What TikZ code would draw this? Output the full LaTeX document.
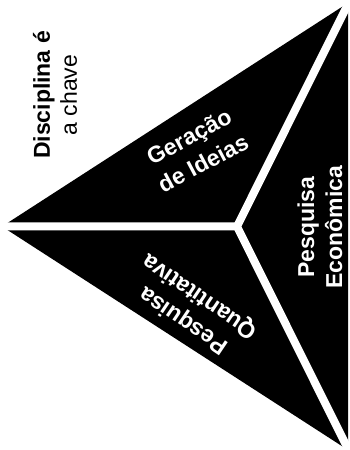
\documentclass[tikz,border=0pt]{standalone}
\usepackage{fontspec}
\setmainfont{Liberation Sans}
\begin{document}
\begin{tikzpicture}[x=1pt,y=1pt,
  lbl/.style={text=white,font=\fontsize{23}{30}\selectfont\bfseries,align=center,inner sep=0pt},
  gap/.style={draw=white,line width=8pt,line cap=round}]
\useasboundingbox (0,0) rectangle (349,450);
\coordinate (A) at (2,223.5);
\coordinate (T) at (348,447);
\coordinate (B) at (348,0);
\coordinate (J) at (237,223.5);
\coordinate (A2) at (-10,223.5);
\coordinate (T2) at (360,470);
\coordinate (B2) at (360,-23);
\fill[black] (A) -- (T) -- (B) -- cycle;
\draw[gap] (A2) -- (J) -- (T2) (J) -- (B2);
\node[lbl,rotate=28] (gi) at (196,300) {Geração\\de Ideias};
\node[lbl,rotate=146,font=\fontsize{23}{29}\selectfont\bfseries] (pq) at (192,142) {Pesquisa\\Quantitativa};
\node[lbl,rotate=90,font=\fontsize{23}{28}\selectfont\bfseries] (pe) at (320,223) {Pesquisa\\Econômica};
\node[rotate=90,align=center,inner sep=0pt,font=\fontsize{23}{27}\selectfont] (dc) at (55,355) {\textbf{Disciplina é}\\a chave};
\end{tikzpicture}
\end{document}
